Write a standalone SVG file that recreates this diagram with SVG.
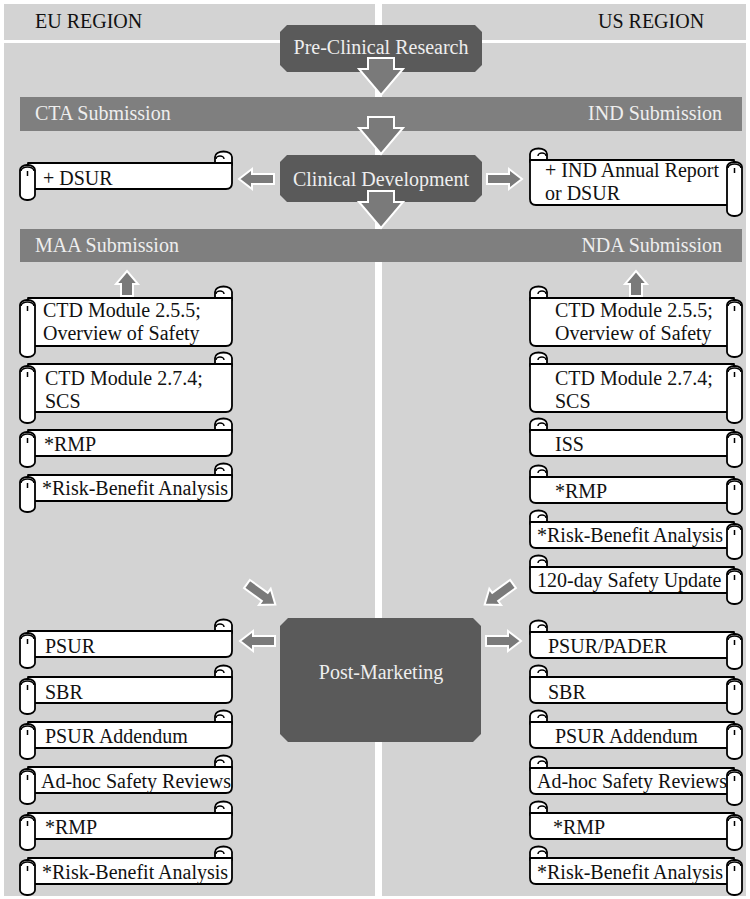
<svg xmlns="http://www.w3.org/2000/svg" xmlns:xlink="http://www.w3.org/1999/xlink" width="750" height="899" viewBox="0 0 750 899">
<style>
text{font-family:"Liberation Serif","Times New Roman",serif;}
.reg{font-size:20px;fill:#111;}
.lt{font-size:20px;fill:#eeeeee;}
.st{font-size:20px;fill:#111;}
.bar{fill:#7f7f7f;}
.box{fill:#5a5a5a;}
.sc{fill:#fff;stroke:#000;stroke-width:1.8;stroke-linejoin:round;}
.ln{fill:none;stroke:#000;stroke-width:1.5;}
.ar{fill:#7a7a7a;stroke:#fff;stroke-width:2;stroke-linejoin:miter;}
</style>
<defs>
<path id="bigdown" d="M-13,0 H13 V11 H22 L0,37 L-22,11 H-13 Z"/>
<path id="sarr" d="M0,-5 H22 V-10 L35,0 L22,10 V5 H0 Z"/>
<path id="uarr" d="M0,-6 H12 V-11 L25,0 L12,11 V6 H0 Z"/>
<g id="s26">
<path class="sc" d="M195,2 V-6 A8.5,5.5 0 0 1 212,-6 V2 Z"/>
<path class="ln" d="M196,-4 a4,3 0 0 1 8,0"/>
<path class="sc" d="M8,0 H212 V20 Q212,26 206,26 H8 Z"/>
<rect class="sc" x="0" y="2" width="15" height="35" rx="7" ry="5"/>
<path class="ln" d="M1,8 A6.5,4 0 0 1 14,8 M7.5,8 V13"/>
</g>
<g id="s45">
<path class="sc" d="M195,2 V-6 A8.5,5.5 0 0 1 212,-6 V2 Z"/>
<path class="ln" d="M196,-4 a4,3 0 0 1 8,0"/>
<path class="sc" d="M8,0 H212 V39 Q212,45 206,45 H8 Z"/>
<rect class="sc" x="0" y="2" width="15" height="54" rx="7" ry="5"/>
<path class="ln" d="M1,8 A6.5,4 0 0 1 14,8 M7.5,8 V13"/>
</g>
<g id="s48">
<path class="sc" d="M195,2 V-6 A8.5,5.5 0 0 1 212,-6 V2 Z"/>
<path class="ln" d="M196,-4 a4,3 0 0 1 8,0"/>
<path class="sc" d="M8,0 H212 V42 Q212,48 206,48 H8 Z"/>
<rect class="sc" x="0" y="2" width="15" height="57" rx="7" ry="5"/>
<path class="ln" d="M1,8 A6.5,4 0 0 1 14,8 M7.5,8 V13"/>
</g>
</defs>

<g id="background">
<rect x="0" y="0" width="750" height="899" fill="#fff"/>
<rect x="4" y="4" width="742" height="892" fill="#d3d3d3"/>
<rect x="0" y="40" width="750" height="3" fill="#fff"/>
<rect x="375" y="0" width="7" height="899" fill="#fff"/>
<text class="reg" x="35" y="28">EU REGION</text>
<text class="reg" x="598" y="28">US REGION</text>
</g>

<g id="cta-ind-bar">
<rect class="bar" x="20" y="97" width="722" height="34"/>
<text class="lt" x="35" y="120">CTA Submission</text>
<text class="lt" x="722" y="120" text-anchor="end">IND Submission</text>
</g>
<g id="maa-nda-bar">
<rect class="bar" x="20" y="229" width="722" height="33"/>
<text class="lt" x="35" y="252">MAA Submission</text>
<text class="lt" x="722" y="252" text-anchor="end">NDA Submission</text>
</g>

<g id="pre-clinical">
<path class="box" d="M287,25 H475 L482,32 V65 L475,72 H287 L280,65 V32 Z"/>
<text class="lt" x="381" y="54" text-anchor="middle">Pre-Clinical Research</text>
</g>
<g id="clinical-development">
<path class="box" d="M287,155 H475 L482,162 V195 L475,202 H287 L280,195 V162 Z"/>
<text class="lt" x="381" y="186" text-anchor="middle">Clinical Development</text>
</g>
<g id="post-marketing">
<path class="box" d="M288,618 H473 L481,626 V734 L473,742 H288 L280,734 V626 Z"/>
<text class="lt" x="381" y="679" text-anchor="middle">Post-Marketing</text>
</g>

<g id="connectors">
<use href="#bigdown" class="ar" transform="translate(381,58)"/>
<use href="#bigdown" class="ar" transform="translate(381,117)"/>
<use href="#bigdown" class="ar" transform="translate(381,191)"/>
<use href="#sarr" class="ar" transform="translate(274,179) rotate(180)"/>
<use href="#sarr" class="ar" transform="translate(487,179)"/>
<use href="#uarr" class="ar" transform="translate(127,296) rotate(-90)"/>
<use href="#uarr" class="ar" transform="translate(636,296) rotate(-90)"/>
<use href="#sarr" class="ar" transform="translate(247,584) rotate(36)"/>
<use href="#sarr" class="ar" transform="translate(513,584) rotate(144)"/>
<use href="#sarr" class="ar" transform="translate(275,641) rotate(180)"/>
<use href="#sarr" class="ar" transform="translate(486,641)"/>
</g>

<g id="eu-dsur"><use href="#s26" transform="translate(20,163)"/><text class="st" x="43" y="185">+ DSUR</text></g>
<g id="us-ind-report"><use href="#s45" transform="translate(742,160) scale(-1,1)"/><text class="st" x="545" y="177">+ IND Annual Report</text><text class="st" x="545" y="200">or DSUR</text></g>

<g id="eu-ctd255"><use href="#s48" transform="translate(20,298)"/><text class="st" x="43" y="317">CTD Module 2.5.5;</text><text class="st" x="43" y="340">Overview of Safety</text></g>
<g id="eu-ctd274"><use href="#s48" transform="translate(20,364)"/><text class="st" x="45" y="385">CTD Module 2.7.4;</text><text class="st" x="45" y="408">SCS</text></g>
<g id="eu-rmp-pre"><use href="#s26" transform="translate(20,430)"/><text class="st" x="44" y="451">*RMP</text></g>
<g id="eu-rba-pre"><use href="#s26" transform="translate(20,475)"/><text class="st" x="42" y="495">*Risk-Benefit Analysis</text></g>

<g id="us-ctd255"><use href="#s48" transform="translate(742,298) scale(-1,1)"/><text class="st" x="555" y="317">CTD Module 2.5.5;</text><text class="st" x="555" y="340">Overview of Safety</text></g>
<g id="us-ctd274"><use href="#s48" transform="translate(742,364) scale(-1,1)"/><text class="st" x="555" y="385">CTD Module 2.7.4;</text><text class="st" x="555" y="408">SCS</text></g>
<g id="us-iss"><use href="#s26" transform="translate(742,430) scale(-1,1)"/><text class="st" x="555" y="451">ISS</text></g>
<g id="us-rmp-pre"><use href="#s26" transform="translate(742,477) scale(-1,1)"/><text class="st" x="555" y="498">*RMP</text></g>
<g id="us-rba-pre"><use href="#s26" transform="translate(742,522) scale(-1,1)"/><text class="st" x="537" y="542">*Risk-Benefit Analysis</text></g>
<g id="us-120day"><use href="#s26" transform="translate(742,567) scale(-1,1)"/><text class="st" x="537" y="587">120-day Safety Update</text></g>

<g id="eu-psur"><use href="#s26" transform="translate(20,631)"/><text class="st" x="45" y="653">PSUR</text></g>
<g id="eu-sbr"><use href="#s26" transform="translate(20,677)"/><text class="st" x="45" y="699">SBR</text></g>
<g id="eu-psur-addendum"><use href="#s26" transform="translate(20,722)"/><text class="st" x="45" y="743">PSUR Addendum</text></g>
<g id="eu-adhoc"><use href="#s26" transform="translate(20,767)"/><text class="st" x="41" y="788">Ad-hoc Safety Reviews</text></g>
<g id="eu-rmp-post"><use href="#s26" transform="translate(20,813)"/><text class="st" x="45" y="834">*RMP</text></g>
<g id="eu-rba-post"><use href="#s26" transform="translate(20,858)"/><text class="st" x="42" y="879">*Risk-Benefit Analysis</text></g>

<g id="us-psur-pader"><use href="#s26" transform="translate(742,632) scale(-1,1)"/><text class="st" x="548" y="653">PSUR/PADER</text></g>
<g id="us-sbr"><use href="#s26" transform="translate(742,677) scale(-1,1)"/><text class="st" x="548" y="699">SBR</text></g>
<g id="us-psur-addendum"><use href="#s26" transform="translate(742,722) scale(-1,1)"/><text class="st" x="555" y="743">PSUR Addendum</text></g>
<g id="us-adhoc"><use href="#s26" transform="translate(742,768) scale(-1,1)"/><text class="st" x="537" y="788">Ad-hoc Safety Reviews</text></g>
<g id="us-rmp-post"><use href="#s26" transform="translate(742,813) scale(-1,1)"/><text class="st" x="553" y="834">*RMP</text></g>
<g id="us-rba-post"><use href="#s26" transform="translate(742,858) scale(-1,1)"/><text class="st" x="537" y="879">*Risk-Benefit Analysis</text></g>
</svg>
